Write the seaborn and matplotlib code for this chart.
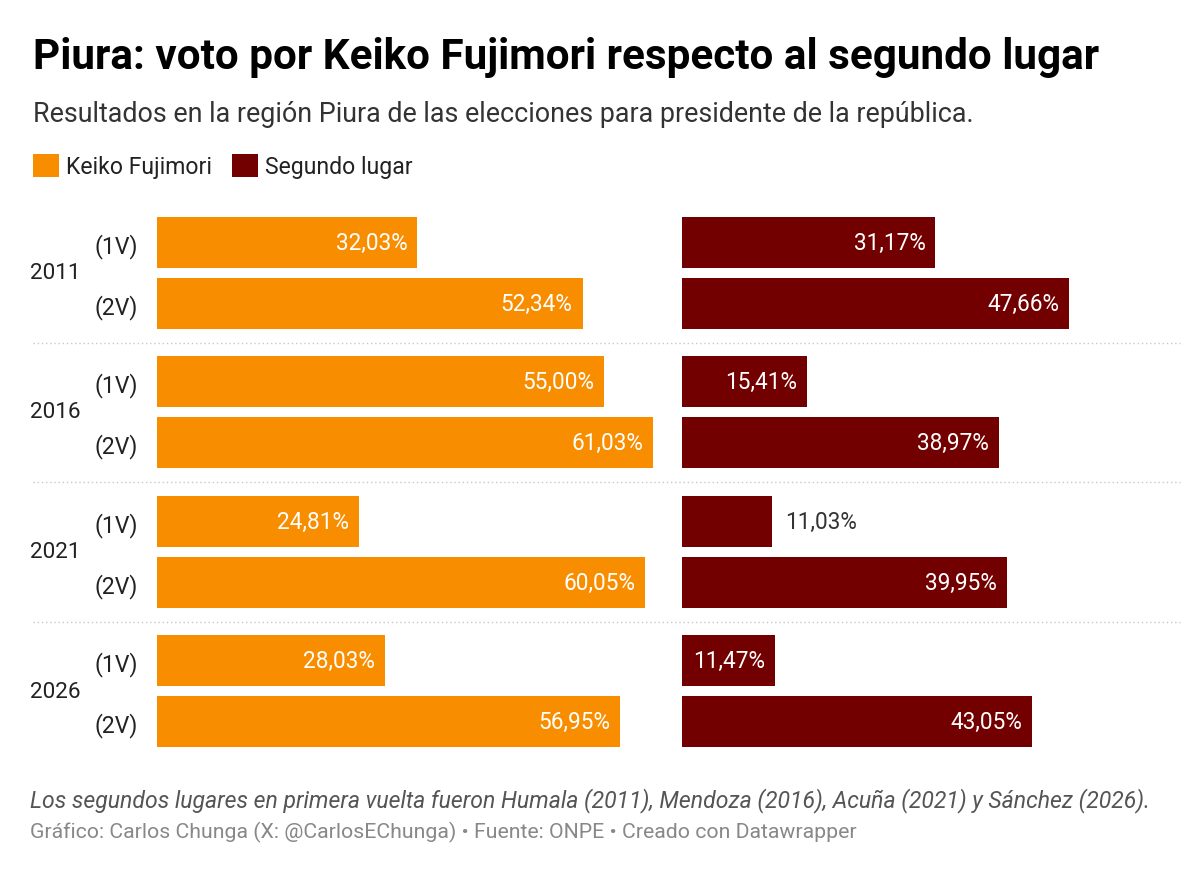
import pandas as pd
import matplotlib.pyplot as plt
import seaborn as sns
from matplotlib.patches import Patch
from matplotlib.lines import Line2D
from matplotlib.transforms import blended_transform_factory

# --- Datos (ONPE, región Piura) ---
anios = ['2011', '2016', '2021', '2026']
vueltas = ['(1V)', '(2V)']
keiko = [32.03, 52.34, 55.00, 61.03, 24.81, 60.05, 28.03, 56.95]
segundo = [31.17, 47.66, 15.41, 38.97, 11.03, 39.95, 11.47, 43.05]

filas = []
for i, anio in enumerate(anios):
    for j, v in enumerate(vueltas):
        filas.append({'anio': anio, 'vuelta': v, 'candidato': 'Keiko Fujimori', 'valor': keiko[i * 2 + j]})
        filas.append({'anio': anio, 'vuelta': v, 'candidato': 'Segundo lugar', 'valor': segundo[i * 2 + j]})
df = pd.DataFrame(filas)

# --- Estilo ---
sns.set_theme(style="white")
plt.rcParams['font.family'] = ['Roboto', 'DejaVu Sans']

NARANJA = '#f98d00'
GRANATE = '#730000'
W, H = 1200, 878


def fx(px):
    return px / W


def fy(py):
    return 1 - py / H


fig = plt.figure(figsize=(12, 8.78), dpi=100)

# textos de cabecera
fig.text(fx(33), fy(69), 'Piura: voto por Keiko Fujimori respecto al segundo lugar',
         fontsize=30.4, fontweight='bold', color='#000000', va='baseline', ha='left')
fig.text(fx(33), fy(122), 'Resultados en la región Piura de las elecciones para presidente de la república.',
         fontsize=19.4, color='#333333', va='baseline', ha='left')

# leyenda
manejadores = [Patch(facecolor=NARANJA, edgecolor='none', label='Keiko Fujimori'),
               Patch(facecolor=GRANATE, edgecolor='none', label='Segundo lugar')]
leg = fig.legend(handles=manejadores, loc='center left', bbox_to_anchor=(fx(33), fy(167)),
                 ncol=2, frameon=False, fontsize=16.6, handlelength=1.12, handleheight=1.15,
                 handletextpad=0.3, columnspacing=0.87, borderpad=0, borderaxespad=0)
for t in leg.get_texts():
    t.set_color('#222222')

# --- Barras ---
tops = [218, 357, 497, 636]
alto = 112
ancho_panel = 500
xmax = 61.5
ppu = ancho_panel / xmax  # pixeles por punto porcentual
paneles = [('Keiko Fujimori', 157, NARANJA), ('Segundo lugar', 682, GRANATE)]
min_dentro = 11.2
fs = 16.3

for g, anio in enumerate(anios):
    for k, (cand, x0, color) in enumerate(paneles):
        ax = fig.add_axes([fx(x0), fy(tops[g] + alto), ancho_panel / W, alto / H])
        sub = df[(df['anio'] == anio) & (df['candidato'] == cand)]
        sns.barplot(data=sub, x='valor', y='vuelta', color=color, width=0.836,
                    linewidth=0, saturation=1, ax=ax, order=vueltas)
        ax.set_xlim(0, xmax)
        ax.set_ylim(1.418, -0.418)
        ax.set_xlabel('')
        ax.set_ylabel('')
        ax.set_xticks([])
        sns.despine(ax=ax, left=True, bottom=True)
        if k == 0:
            ax.tick_params(axis='y', length=0, pad=13.5, labelsize=16.6, labelcolor='#222222')
            trans = blended_transform_factory(fig.transFigure, ax.transAxes)
            ax.text(fx(30), 0.5, anio, transform=trans, fontsize=16.2, color='#222222',
                    ha='left', va='center')
        else:
            ax.set_yticks([])

        for j, val in enumerate(sub['valor']):
            etiqueta = f"{val:.2f}".replace('.', ',') + '%'
            if val >= min_dentro:
                ax.annotate(etiqueta, xy=(val, j), xytext=(-10, 0), textcoords='offset pixels',
                            ha='right', va='center', color='white', fontsize=fs)
            else:
                ax.annotate(etiqueta, xy=(val, j), xytext=(13, 0), textcoords='offset pixels',
                            ha='left', va='center', color='#333333', fontsize=fs)

# separadores punteados entre años
for g in range(len(anios) - 1):
    ymed = (tops[g] + alto + tops[g + 1]) / 2
    fig.add_artist(Line2D([fx(33), fx(1180)], [fy(ymed), fy(ymed)], color='#c8c8c8',
                          linewidth=1, linestyle=(0, (1, 2))))

# --- Notas ---
fig.text(fx(30), fy(807), 'Los segundos lugares en primera vuelta fueron Humala (2011), Mendoza (2016), '
         'Acuña (2021) y Sánchez (2026).', fontsize=16.6, fontstyle='italic', color='#555555',
         va='baseline', ha='left')
fig.text(fx(30), fy(838), 'Gráfico: Carlos Chunga (X: @CarlosEChunga) • Fuente: ONPE • Creado con Datawrapper',
         fontsize=15.3, color='#888888', va='baseline', ha='left')

fig.savefig('out.png', dpi=100, facecolor='white')
